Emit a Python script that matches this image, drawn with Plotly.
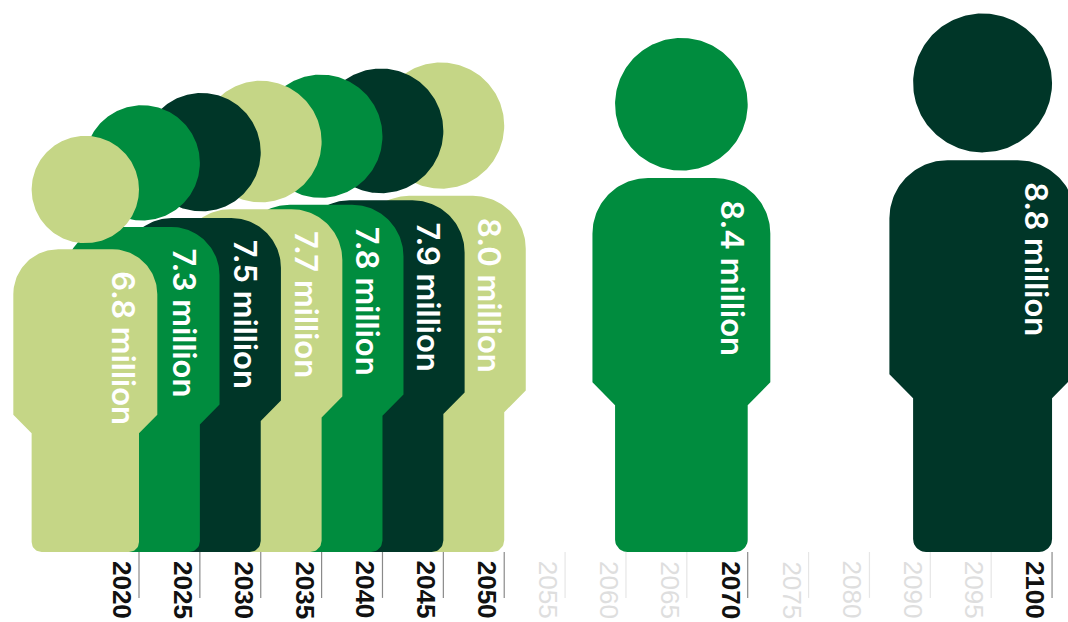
import numpy as np
import plotly.graph_objects as go

# Projected values, in millions, per year shown with a figure
years = ["2020", "2025", "2030", "2035", "2040", "2045", "2050", "2070", "2100"]
values = [6.8, 7.3, 7.5, 7.7, 7.8, 7.9, 8.0, 8.4, 8.8]
colors = ["#C5D686", "#008C3E", "#003628", "#C5D686", "#008C3E", "#003628", "#C5D686", "#008C3E", "#003628"]

# Year axis: 2085 is not part of the sequence
axis_years = ["2020", "2025", "2030", "2035", "2040", "2045", "2050", "2055", "2060",
              "2065", "2070", "2075", "2080", "2090", "2095", "2100"]

WIDTH, HEIGHT = 1068, 622
PX_PER_YEAR_STEP = 60.87
PX_PER_MILLION = 61.2
X0_PX = 139.0
BASE_PX = 552.0
Y_PER_X = PX_PER_MILLION / PX_PER_YEAR_STEP


def arc(cx, cy, r, a0, a1, n=24):
    """Points along a circular arc; radii are in value units, x is rescaled to axis units."""
    t = np.radians(np.linspace(a0, a1, n))
    return list(cx + r * np.cos(t) * Y_PER_X), list(cy + r * np.sin(t))


def person(right, v):
    """Outline of a person whose overall height equals v, with the leg's right edge at x=right."""
    leg = 0.258 * v
    ext = 0.044 * v
    left_leg = right - leg * Y_PER_X
    cx = right - leg / 2 * Y_PER_X
    xs, ys = arc(cx, v - leg / 2, leg / 2, 0, 360, 240)
    xs.append(None)
    ys.append(None)

    torso_top = v * (1 - 0.2725)
    side_end = v * (1 - 0.670)
    leg_join = v * (1 - 0.7145)
    r_top = 0.108 * v
    r_foot = 0.024 * v
    t_left = left_leg - ext * Y_PER_X
    t_right = right + ext * Y_PER_X

    bx, by = [], []
    for part in (
        arc(left_leg + r_foot * Y_PER_X, r_foot, r_foot, 180, 270, 12),
        arc(right - r_foot * Y_PER_X, r_foot, r_foot, 270, 360, 12),
        ([right, t_right], [leg_join, side_end]),
        arc(t_right - r_top * Y_PER_X, torso_top - r_top, r_top, 0, 90, 40),
        arc(t_left + r_top * Y_PER_X, torso_top - r_top, r_top, 90, 180, 40),
        ([t_left, left_leg], [side_end, leg_join]),
    ):
        bx += list(part[0])
        by += list(part[1])
    bx.append(bx[0])
    by.append(by[0])
    return xs + bx, ys + by


fig = go.Figure()
annotations = []

# Tick marks below the baseline: highlighted years darker than the others
for highlighted, color in ((False, "#E6E6E6"), (True, "#8A8A8A")):
    tx, ty = [], []
    for i, y in enumerate(axis_years):
        if (y in years) == highlighted:
            tx += [i, i, None]
            ty += [0, -0.75, None]
    fig.add_trace(go.Scatter(x=tx, y=ty, mode="lines", line=dict(color=color, width=1.2),
                             hoverinfo="skip", showlegend=False))

# Earlier years sit in front, so they are added last
for year, v, c in reversed(list(zip(years, values, colors))):
    i = axis_years.index(year)
    x, y = person(i, v)
    fig.add_trace(go.Scatter(x=x, y=y, mode="lines", fill="toself", fillcolor=c,
                             line=dict(color=c, width=0), name=year,
                             hoverinfo="name", showlegend=False))

for year, v in zip(years, values):
    i = axis_years.index(year)
    torso_top = v * (1 - 0.2725)
    annotations.append(dict(
        x=i, y=torso_top, xref="x", yref="y", text=f"{v:.1f} million", textangle=90,
        showarrow=False, xanchor="center", yanchor="top", xshift=-15, yshift=-21,
        borderpad=0, font=dict(family="Inter", size=31, color="white", weight=600),
    ))

for i, y in enumerate(axis_years):
    shown = y in years
    annotations.append(dict(
        x=i, y=-0.13, xref="x", yref="y", text=y, textangle=90, showarrow=False,
        xanchor="center", yanchor="top", xshift=-17, borderpad=0,
        font=dict(family="Liberation Sans", size=26, color="#111111" if shown else "#DEDEDE",
                  weight=700 if shown else 400),
    ))

fig.update_layout(
    width=WIDTH, height=HEIGHT, autosize=False,
    margin=dict(l=0, r=0, t=0, b=0),
    paper_bgcolor="white", plot_bgcolor="white",
    showlegend=False, annotations=annotations,
    xaxis=dict(visible=False, range=[-X0_PX / PX_PER_YEAR_STEP, (WIDTH - X0_PX) / PX_PER_YEAR_STEP]),
    yaxis=dict(visible=False, range=[-(HEIGHT - BASE_PX) / PX_PER_MILLION, BASE_PX / PX_PER_MILLION]),
)

fig.write_html("out.html")
